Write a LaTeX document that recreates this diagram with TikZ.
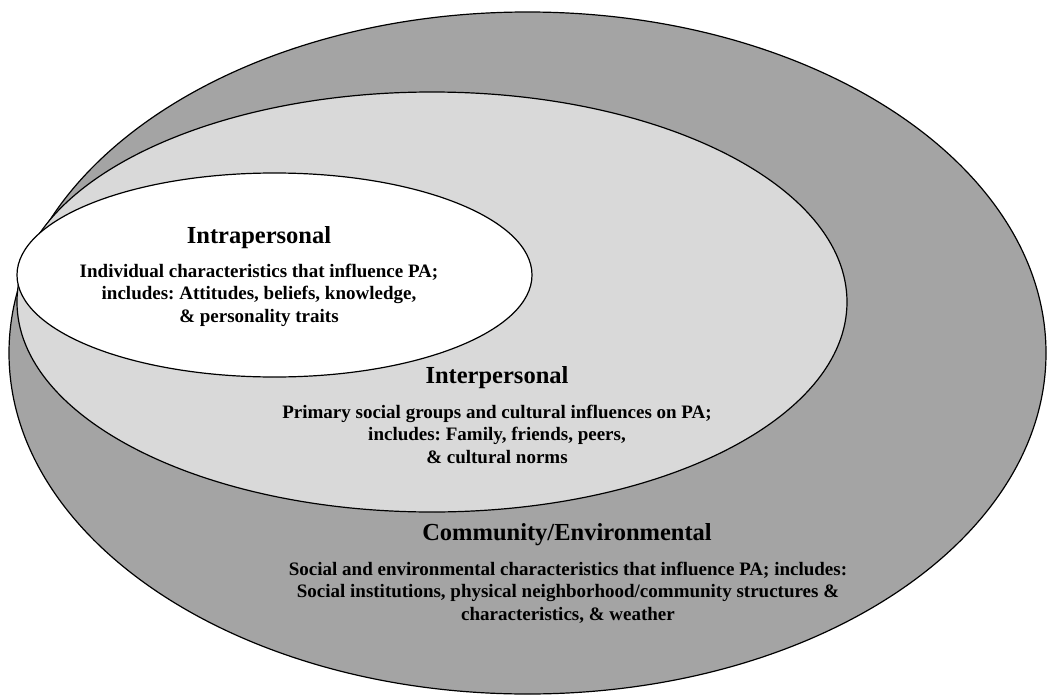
\documentclass[tikz,border=0pt]{standalone}
\usepackage{fontspec}
\setmainfont{Liberation Serif}
\usepackage{tikz}
\usetikzlibrary{positioning}
\definecolor{outergray}{RGB}{164,164,164}
\definecolor{midgray}{RGB}{217,217,217}

\begin{document}
\frenchspacing
\begin{tikzpicture}[x=1pt,y=-1pt,line width=1.2pt,
	head/.style={font=\fontsize{24.5}{28}\selectfont\bfseries,inner sep=0pt,anchor=base},
	body/.style={font=\fontsize{19}{22.5}\selectfont\bfseries,align=center,inner sep=0pt,anchor=base}]

\useasboundingbox (0,0) rectangle (1047,696);

% nested levels, outermost first
\draw[fill=outergray] (527.5,353) ellipse [x radius=518.5pt, y radius=341pt];
\draw[fill=midgray] (432,302) ellipse [x radius=415pt, y radius=210pt];
\draw[fill=white] (274.5,275) ellipse [x radius=257.5pt, y radius=102pt];

% base of a body node is its last line
\node[head] (intra) at (259,243) {Intrapersonal};
\node[body] (intrabody) at (259,322) {Individual characteristics that influence PA;\\includes: Attitudes, beliefs, knowledge,\\\& personality traits};

\node[head] (inter) at (497,383) {Interpersonal};
\node[body] (interbody) at (497,463) {Primary social groups and cultural influences on PA;\\includes: Family, friends, peers,\\\& cultural norms};

\node[head] (comm) at (567,540) {Community/Environmental};
\node[body] (commbody) at (568,620) {Social and environmental characteristics that influence PA; includes:\\Social institutions, physical neighborhood/community structures \&\\characteristics, \& weather};

\end{tikzpicture}
\end{document}
